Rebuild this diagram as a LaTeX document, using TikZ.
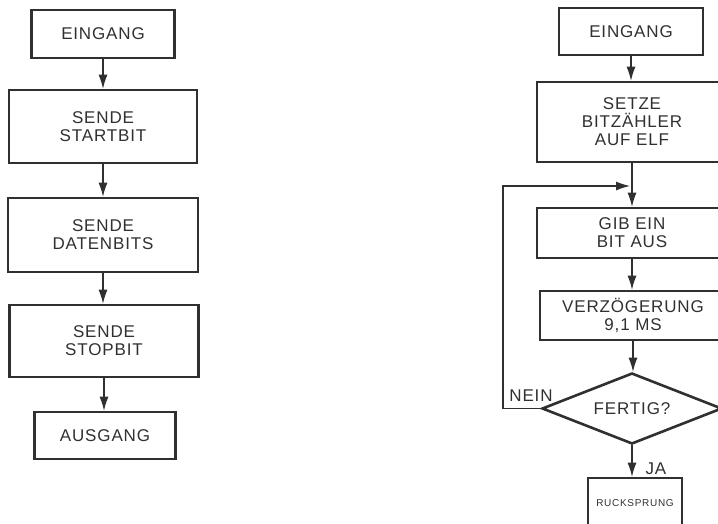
\documentclass[tikz,border=0pt]{standalone}
\usepackage{fontspec}
\setmainfont{Liberation Sans}
\usetikzlibrary{arrows.meta,shapes.geometric}
\definecolor{tinte}{HTML}{303030}

\begin{document}
\begin{tikzpicture}[
    x=1pt, y=-1pt,
    every node/.style={font=\fontsize{17}{18}\selectfont\addfontfeature{LetterSpace=5},
        text=tinte, align=center},
    kasten/.style={draw=tinte, line width=2.6pt, inner sep=0pt},
    pfeil/.style={draw=tinte, line width=1.2pt, -{Latex[length=14pt,width=9pt]}},
    klein/.style={font=\fontsize{10}{12}\selectfont\addfontfeature{LetterSpace=7}}]
    \useasboundingbox (0,0) rectangle (718,523);
    \clip (0,0) rectangle (718,523);

    % Linker Ablauf: ein Zeichen senden.
    \node[kasten, minimum width=143pt, minimum height=48pt] (eingL) at (103,34) {EINGANG};
    \node[kasten, minimum width=188pt, minimum height=73pt] (startL) at (103,126.5) {SENDE\\STARTBIT};
    \node[kasten, minimum width=190pt, minimum height=74pt] (datenL) at (103,235) {SENDE\\DATENBITS};
    \node[kasten, minimum width=189pt, minimum height=72pt] (stopL) at (104,341) {SENDE\\STOPBIT};
    \node[kasten, minimum width=141pt, minimum height=47pt] (ausgL) at (105,435.5) {AUSGANG};
    \foreach \a/\b in {eingL/startL, startL/datenL, datenL/stopL, stopL/ausgL} {
        \draw[pfeil] (\a) -- (\a |- \b.north);
    }

    % Rechter Ablauf: Bitzaehler und Schleife.
    \node[kasten, minimum width=144pt, minimum height=47pt] (eingR) at (631,31.5) {EINGANG};
    \node[kasten, minimum width=190pt, minimum height=80pt] (setzeR) at (632,122) {SETZE\\BITZÄHLER\\AUF ELF};
    \coordinate (schleife) at (632,186);
    \coordinate (links) at (503,186);
    \node[kasten, minimum width=190pt, minimum height=50pt] (gibR) at (632,233) {GIB EIN\\BIT AUS};
    \node[kasten, minimum width=186pt, minimum height=49pt] (verzR) at (633,315.5) {VERZÖGERUNG\\9,1 MS};
    \node[kasten, diamond, aspect=2.5, minimum width=180pt, minimum height=71pt] (fertigR) at (632,408.5) {FERTIG?};
    \node[kasten, klein, minimum width=94pt, minimum height=50pt] (rueckR) at (635,503) {RUCKSPRUNG};

    \draw[pfeil] (eingR) -- (eingR |- setzeR.north);
    \draw[pfeil] (setzeR) -- (setzeR |- gibR.north);
    \draw[pfeil] (gibR) -- (gibR |- verzR.north);
    \draw[pfeil] (verzR) -- (verzR |- fertigR.north);
    \draw[pfeil] (fertigR.south) -- (fertigR.south |- rueckR.north);
    \draw[pfeil, shorten >=2pt] (fertigR.west) -| (links) -- (schleife);

    % Beschriftungen der Ausgaenge.
    \node (nein) at (531,396) {NEIN};
    \node (ja) at (656,469) {JA};
\end{tikzpicture}
\end{document}
